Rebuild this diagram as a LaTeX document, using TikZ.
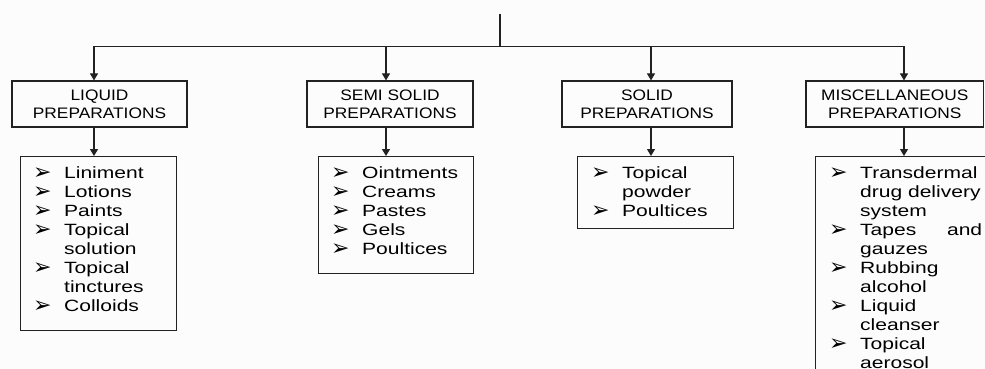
\documentclass[tikz,border=0pt]{standalone}
\usepackage{fontspec}
\setmainfont{Liberation Sans}
\usetikzlibrary{arrows.meta}
\newfontfamily\hdfont[FakeStretch=1.14]{Liberation Sans}
\newfontfamily\lsfont[FakeStretch=1.29]{Liberation Sans}
\newfontfamily\symfont{DejaVu Sans}
\newcommand{\bul}{{\symfont\fontsize{22}{22}\selectfont\raisebox{-1pt}[0pt][0pt]{➢}}}
\newcommand{\itm}[1]{\makebox[31pt][l]{\bul}#1}
\newcommand{\cnt}[1]{\hspace*{31pt}#1}
\newcommand{\lfont}{\lsfont\fontsize{16.3}{19}\selectfont}
\definecolor{lncol}{HTML}{222222}
\definecolor{bgcol}{HTML}{FCFCFC}
\begin{document}
\begin{tikzpicture}[x=1pt,y=-1pt,
  hd/.style={draw=lncol, line width=1.1pt, minimum height=46pt, inner sep=0pt, align=center, font=\hdfont\fontsize{15.2}{18.3}\selectfont},
  lbox/.style={draw=lncol, line width=1.1pt, anchor=north west, inner sep=0pt},
  ltext/.style={anchor=base west, inner sep=0pt},
  arr/.style={draw=lncol, line width=1.1pt, -{Triangle[width=8pt,length=7pt]}},
  conn/.style={draw=lncol, line width=1.1pt}]
\useasboundingbox[fill=bgcol] (0,0) rectangle (985,369);
\clip (0,0) rectangle (985,369);
% headers
\node[hd, minimum width=175pt] (liqh) at (99.5,104) {LIQUID\\PREPARATIONS};
\node[hd, minimum width=166pt] (semh) at (390,104) {SEMI SOLID\\PREPARATIONS};
\node[hd, minimum width=170pt] (solh) at (647,104) {SOLID\\PREPARATIONS};
\node[hd, minimum width=177.5pt] (mish) at (894.75,104) {MISCELLANEOUS\\PREPARATIONS};
% list boxes
\node[lbox, minimum width=156pt, minimum height=174pt] (liql) at (20,156) {};
\node[lbox, minimum width=155pt, minimum height=117pt] (seml) at (318,156) {};
\node[lbox, minimum width=156pt, minimum height=72pt] (soll) at (577,156) {};
\node[lbox, minimum width=200pt, minimum height=260pt] (misl) at (815,156) {};
% list texts
\node[ltext] (liqt) at (33,178) {\parbox[t]{150pt}{\lfont
  \itm{Liniment}\\
  \itm{Lotions}\\
  \itm{Paints}\\
  \itm{Topical}\\
  \cnt{solution}\\
  \itm{Topical}\\
  \cnt{tinctures}\\
  \itm{Colloids}}};
\node[ltext] (semt) at (331,178) {\parbox[t]{150pt}{\lfont
  \itm{Ointments}\\
  \itm{Creams}\\
  \itm{Pastes}\\
  \itm{Gels}\\
  \itm{Poultices}}};
\node[ltext] (solt) at (591,178) {\parbox[t]{150pt}{\lfont
  \itm{Topical}\\
  \cnt{powder}\\
  \itm{Poultices}}};
\node[ltext] (mist) at (829,178) {\parbox[t]{160pt}{\lfont
  \itm{Transdermal}\\
  \cnt{drug delivery}\\
  \cnt{system}\\
  \itm{\makebox[122pt][l]{Tapes\hfill and}}\\
  \cnt{gauzes}\\
  \itm{Rubbing}\\
  \cnt{alcohol}\\
  \itm{Liquid}\\
  \cnt{cleanser}\\
  \itm{Topical}\\
  \cnt{aerosol}}};
% connectors
\coordinate (root) at (500,14);
\coordinate (bus) at (500,46.5);
\coordinate (b1) at (94,46.5);
\coordinate (b2) at (386,46.5);
\coordinate (b3) at (651,46.5);
\coordinate (b4) at (904,46.5);
\draw[conn] (root) -- (bus);
\draw[conn] (b1) -- (b4);
\draw[arr] (b1) -- (b1 |- liqh.north);
\draw[arr] (b2) -- (b2 |- semh.north);
\draw[arr] (b3) -- (b3 |- solh.north);
\draw[arr] (b4) -- (b4 |- mish.north);
\draw[arr] (b1 |- liqh.south) -- (b1 |- liql.north);
\draw[arr] (b2 |- semh.south) -- (b2 |- seml.north);
\draw[arr] (b3 |- solh.south) -- (b3 |- soll.north);
\draw[arr] (b4 |- mish.south) -- (b4 |- misl.north);
\end{tikzpicture}
\end{document}
